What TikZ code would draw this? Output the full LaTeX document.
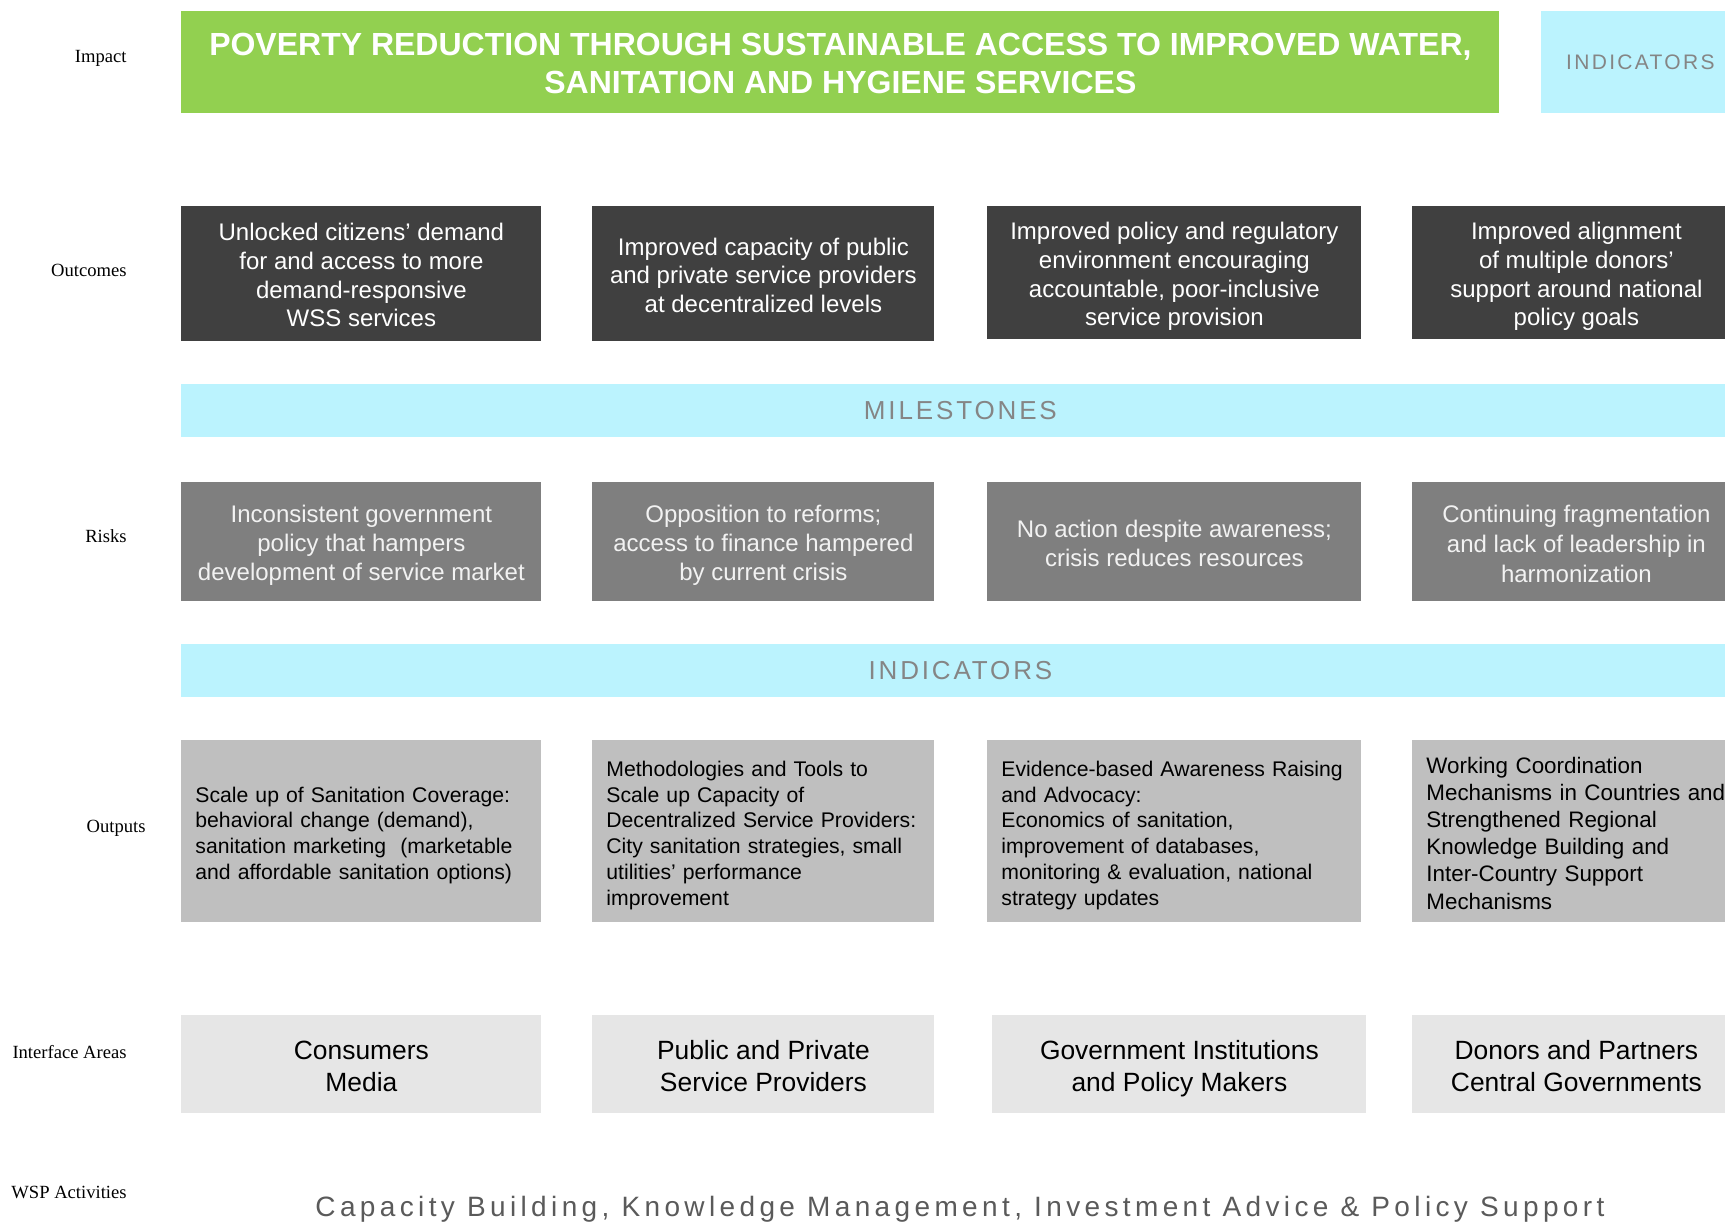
\documentclass[tikz,border=0pt]{standalone}
\usepackage{fontspec}
\setmainfont{Liberation Sans}
\newfontfamily\labelfont{Liberation Serif}
\newfontfamily\bandfont[LetterSpace=11]{Liberation Sans}
\newfontfamily\wspfont[LetterSpace=15.6]{Liberation Sans}
\usepackage{tikz}

\definecolor{impactgreen}{HTML}{92D050}
\definecolor{bandcyan}{HTML}{BBF3FE}
\definecolor{outcomedark}{HTML}{404040}
\definecolor{riskgray}{HTML}{7F7F7F}
\definecolor{outputgray}{HTML}{BFBFBF}
\definecolor{ifacegray}{HTML}{E6E6E6}
\definecolor{bandtext}{HTML}{858585}
\definecolor{wsptext}{HTML}{5A5A5A}

% struts so every box centres its lines the same way
\newcommand{\linetop}{\rule{0pt}{\dimexpr0.7\baselineskip+4.6pt\relax}}

\begin{document}
\begin{tikzpicture}[x=0.5pt,y=-0.5pt]
% ---- styles ----
\tikzstyle{rowlabel}=[anchor=base east,inner sep=0pt,
  font=\labelfont\fontsize{9.3}{11}\selectfont]
\tikzstyle{impactbox}=[anchor=west,fill=impactgreen,text=white,align=center,
  minimum height=51pt,inner sep=0pt,font=\bfseries\fontsize{16}{19.2}\selectfont]
\tikzstyle{band}=[anchor=west,fill=bandcyan,text=bandtext,inner sep=0pt,
  text depth=-1pt,font=\bandfont\fontsize{13}{15}\selectfont]
\tikzstyle{outcomebox}=[anchor=west,fill=outcomedark,text=white,align=center,
  minimum height=67.5pt,inner sep=0pt,font=\fontsize{12}{14.3}\selectfont]
\tikzstyle{riskbox}=[anchor=west,fill=riskgray,text=white!95!black,align=center,
  minimum height=59.5pt,inner sep=0pt,font=\fontsize{12}{14.5}\selectfont]
\tikzstyle{outputbox}=[anchor=west,fill=outputgray,text=black,align=left,
  minimum height=91pt,inner xsep=7pt,inner ysep=0pt,
  font=\fontsize{10.6}{12.9}\selectfont]
\tikzstyle{ifacebox}=[anchor=west,fill=ifacegray,text=black,align=center,
  minimum height=49pt,inner sep=0pt,font=\fontsize{13.2}{16}\selectfont]

% ---- frame ----
\useasboundingbox (0,0) rectangle (1725,1222);

% ---- row labels ----
\node[rowlabel] (lImpact) at (127,62.4) {Impact};
\node[rowlabel] (lOutcomes) at (127,276.3) {Outcomes};
\node[rowlabel] (lRisks) at (127,542.3) {Risks};
\node[rowlabel] (lOutputs) at (146,832.4) {Outputs};
\node[rowlabel] (lIface) at (127,1058) {Interface Areas};
\node[rowlabel] (lWsp) at (127,1198.5) {WSP Activities};

% ---- impact ----
\node[impactbox,minimum width=659pt] (impact) at (181,62)
  {\linetop POVERTY REDUCTION THROUGH SUSTAINABLE ACCESS TO IMPROVED WATER,\\
   SANITATION AND HYGIENE SERVICES\strut};
\node[band,minimum width=99pt,minimum height=51pt,
  font=\bandfont\fontsize{10.5}{12}\selectfont] (indTop) at (1541,62) {INDICATORS};

% ---- outcomes ----
\node[outcomebox,minimum width=180pt] (oc1) at (181,273.5)
  {\linetop Unlocked citizens’ demand\\for and access to more\\demand-responsive\\WSS services\strut};
\node[outcomebox,minimum width=171pt] (oc2) at (592,273.5)
  {\linetop Improved capacity of public\\and private service providers\\at decentralized levels\strut};
\node[outcomebox,minimum width=187pt,minimum height=66.5pt] (oc3) at (987,272.5)
  {\linetop Improved policy and regulatory\\environment encouraging\\accountable, poor-inclusive\\service provision\strut};
\node[outcomebox,minimum width=164pt,minimum height=66.5pt] (oc4) at (1412,272.5)
  {\linetop Improved alignment\\of multiple donors’\\support around national\\policy goals\strut};

% ---- milestones band ----
\node[band,minimum width=779pt,minimum height=26.5pt] (milestones) at (181,410.5) {MILESTONES};

% ---- risks ----
\node[riskbox,minimum width=180pt] (rk1) at (181,541.5)
  {\linetop Inconsistent government\\policy that hampers\\development of service market\strut};
\node[riskbox,minimum width=171pt] (rk2) at (592,541.5)
  {\linetop Opposition to reforms;\\access to finance hampered\\by current crisis\strut};
\node[riskbox,minimum width=187pt] (rk3) at (987,541.5)
  {\linetop No action despite awareness;\\crisis reduces resources\strut};
\node[riskbox,minimum width=164pt,font=\fontsize{12}{15}\selectfont] (rk4) at (1412,541.5)
  {\linetop Continuing fragmentation\\and lack of leadership in\\harmonization\strut};

% ---- indicators band ----
\node[band,minimum width=779pt,minimum height=26.5pt] (indicators) at (181,670.5) {INDICATORS};

% ---- outputs ----
\node[outputbox,text width=166pt] (op1) at (181,831)
  {\linetop Scale up of Sanitation Coverage:\\behavioral change (demand),\\sanitation marketing~ (marketable\\and affordable sanitation options)\strut};
\node[outputbox,text width=157pt] (op2) at (592,831)
  {\linetop Methodologies and Tools to\\Scale up Capacity of\\Decentralized Service Providers:\\City sanitation strategies, small\\utilities’ performance\\improvement\strut};
\node[outputbox,text width=173pt] (op3) at (987,831)
  {\linetop Evidence-based Awareness Raising\\and Advocacy:\\Economics of sanitation,\\improvement of databases,\\monitoring \& evaluation, national\\strategy updates\strut};
\node[outputbox,text width=166pt,font=\fontsize{11.2}{13.6}\selectfont] (op4) at (1412,831)
  {\linetop Working Coordination\\Mechanisms in Countries and\\Strengthened Regional\\Knowledge Building and\\Inter-Country Support\\Mechanisms\strut};

% ---- interface areas ----
\node[ifacebox,minimum width=180pt] (if1) at (181,1064) {\linetop Consumers\\Media\strut};
\node[ifacebox,minimum width=171pt] (if2) at (592,1064) {\linetop Public and Private\\Service Providers\strut};
\node[ifacebox,minimum width=187pt] (if3) at (992,1064) {\linetop Government Institutions\\and Policy Makers\strut};
\node[ifacebox,minimum width=164pt] (if4) at (1412,1064) {\linetop Donors and Partners\\Central Governments\strut};

% ---- WSP activities ----
\node[anchor=base,inner sep=0pt,text=wsptext,font=\wspfont\fontsize{14}{16}\selectfont]
  (wsp) at (960,1216) {Capacity Building, Knowledge Management, Investment Advice \& Policy Support};

\end{tikzpicture}
\end{document}
